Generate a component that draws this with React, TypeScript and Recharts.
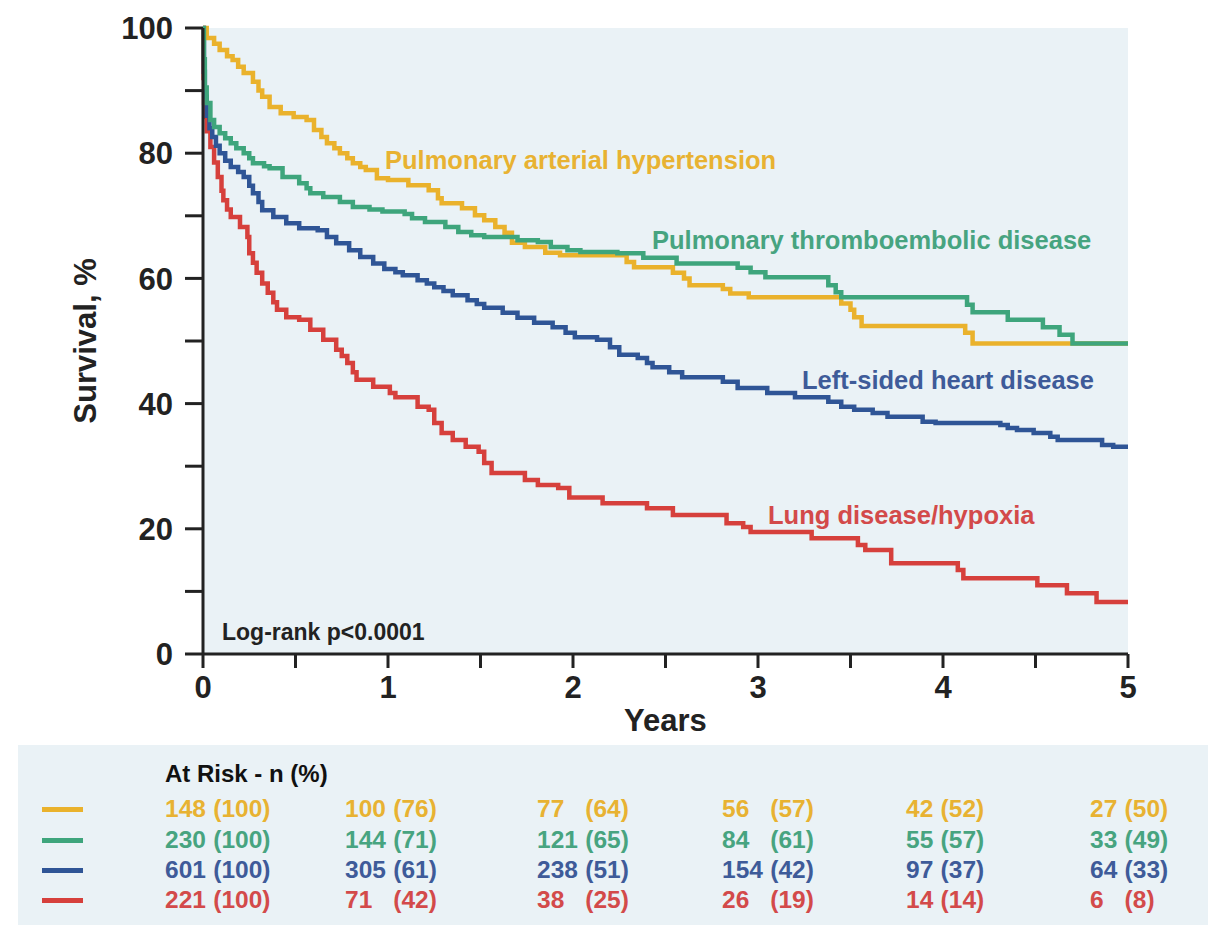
import React from "react";
import { LineChart, Line, XAxis, YAxis, CartesianGrid, Label } from "recharts";

// Kaplan-Meier steps: time (years) -> survival (%)
const pahTime = [0, 0.02, 0.06, 0.09, 0.13, 0.16, 0.19, 0.22, 0.27, 0.3, 0.32, 0.36, 0.42, 0.49, 0.56, 0.6, 0.64, 0.67, 0.71, 0.74, 0.78, 0.81, 0.85, 0.88, 0.94, 1.0, 1.11, 1.22, 1.27, 1.29, 1.4, 1.47, 1.52, 1.58, 1.63, 1.67, 1.74, 1.85, 1.93, 2.29, 2.33, 2.54, 2.6, 2.63, 2.81, 2.85, 2.95, 3.45, 3.5, 3.52, 3.56, 4.12, 4.16, 5];
const pahSurv = [100, 98.4, 97.5, 96.5, 95.5, 94.9, 93.8, 92.8, 91.4, 90, 89, 87.4, 86.4, 85.8, 85.3, 83.7, 82.6, 81.6, 80.8, 80, 79.2, 78.4, 77.8, 77.3, 76, 75.7, 74.9, 74.1, 72.8, 72, 71.2, 70.1, 69.3, 68.2, 67.3, 65.7, 65, 64.1, 63.7, 62.6, 61.8, 60.9, 60, 58.9, 58.3, 57.6, 57, 56, 55, 53.8, 52.4, 51.3, 49.6, 49.6];

const pteTime = [0, 0.005, 0.01, 0.02, 0.04, 0.06, 0.09, 0.12, 0.15, 0.18, 0.22, 0.25, 0.27, 0.33, 0.36, 0.43, 0.52, 0.56, 0.58, 0.65, 0.74, 0.81, 0.9, 0.97, 1.09, 1.13, 1.2, 1.31, 1.38, 1.45, 1.52, 1.7, 1.81, 1.88, 1.97, 2.04, 2.24, 2.38, 2.56, 2.89, 2.96, 3.04, 3.38, 3.42, 3.45, 4.13, 4.16, 4.35, 4.54, 4.63, 4.7, 5];
const pteSurv = [100, 95, 90.5, 88, 85.3, 84.2, 83.2, 82.4, 81.6, 80.8, 80, 79.2, 78.4, 77.9, 77.6, 76.2, 75.2, 74.4, 73.6, 73, 72.2, 71.4, 71, 70.7, 70.3, 69.6, 69, 68.2, 67.4, 66.9, 66.6, 66.1, 65.8, 65, 64.5, 64.2, 64, 63.3, 62.4, 61.7, 61, 60.2, 58.9, 57.8, 57, 55.8, 54.6, 53.4, 52.2, 51, 49.6, 49.6];

const lhdTime = [0, 0.005, 0.01, 0.02, 0.035, 0.05, 0.07, 0.09, 0.12, 0.15, 0.19, 0.22, 0.25, 0.27, 0.3, 0.32, 0.38, 0.45, 0.52, 0.62, 0.67, 0.72, 0.79, 0.85, 0.92, 0.98, 1.04, 1.08, 1.16, 1.21, 1.25, 1.3, 1.35, 1.43, 1.48, 1.52, 1.62, 1.7, 1.79, 1.89, 1.96, 2.01, 2.13, 2.2, 2.25, 2.35, 2.4, 2.43, 2.52, 2.59, 2.81, 2.89, 3.05, 3.2, 3.38, 3.45, 3.52, 3.62, 3.7, 3.89, 3.96, 4.31, 4.35, 4.4, 4.49, 4.58, 4.62, 4.86, 4.92, 5];
const lhdSurv = [100, 93, 89, 86, 84, 82.6, 81.2, 80, 78.8, 77.8, 77, 76.2, 74.8, 73.6, 72.2, 70.9, 69.8, 68.8, 68, 67.7, 66.6, 65.6, 64.5, 63.4, 62.4, 61.5, 61, 60.5, 59.7, 59.2, 58.6, 58, 57.3, 56.5, 55.9, 55.3, 54.5, 53.7, 52.9, 52.2, 51.3, 50.6, 50.2, 49, 47.8, 47.3, 46.5, 45.8, 45, 44.2, 43.5, 42.5, 41.7, 41, 40.3, 39.5, 39, 38.5, 37.9, 37.1, 36.9, 36.6, 36.1, 35.8, 35.3, 34.7, 34.2, 33.4, 33.1, 33.1];

const ldTime = [0, 0.003, 0.006, 0.01, 0.02, 0.04, 0.06, 0.08, 0.1, 0.11, 0.13, 0.15, 0.2, 0.24, 0.25, 0.27, 0.29, 0.32, 0.35, 0.38, 0.4, 0.45, 0.52, 0.58, 0.65, 0.72, 0.75, 0.78, 0.81, 0.83, 0.92, 1.01, 1.04, 1.16, 1.22, 1.25, 1.29, 1.35, 1.42, 1.49, 1.52, 1.56, 1.74, 1.81, 1.92, 1.98, 2.16, 2.4, 2.54, 2.83, 2.92, 2.96, 3.29, 3.54, 3.58, 3.72, 4.08, 4.11, 4.51, 4.67, 4.83, 5];
const ldSurv = [100, 92, 88, 85.8, 83.5, 81, 78.5, 76.2, 74, 72.5, 71, 69.8, 68.2, 66.6, 64, 62.5, 60.9, 59.2, 57.7, 56.2, 55, 53.8, 53.4, 51.8, 50.2, 48.6, 47.6, 46.5, 45, 43.8, 42.7, 41.7, 41, 39.5, 39, 36.9, 35.3, 34.2, 33.1, 32.3, 30.5, 28.9, 27.8, 27, 26.5, 25, 24.1, 23.3, 22.2, 20.9, 20.3, 19.5, 18.5, 17.4, 16.6, 14.5, 13.4, 12.1, 11, 9.7, 8.3, 8.3];

const xTicks = [0, 0.5, 1, 1.5, 2, 2.5, 3, 3.5, 4, 4.5, 5];
const yTicks = [0, 10, 20, 30, 40, 50, 60, 70, 80, 90, 100];

// at-risk table
const riskN = [
  [148, 100, 77, 56, 42, 27],
  [230, 144, 121, 84, 55, 33],
  [601, 305, 238, 154, 97, 64],
  [221, 71, 38, 26, 14, 6],
];
const riskPct = [
  [100, 76, 64, 57, 52, 50],
  [100, 71, 65, 61, 57, 49],
  [100, 61, 51, 42, 37, 33],
  [100, 42, 25, 19, 14, 8],
];

const LINE = ["#eab22c", "#3ea57c", "#2f5596", "#d6403c"];
const TEXT = ["#e8b232", "#47a480", "#3e5b99", "#d34a4a"];
const FONT = "'Liberation Sans', Arial, sans-serif";
const AXIS = "#222";

const pts = (t: number[], s: number[]) => t.map((x, i) => ({ t: x, s: s[i] }));
const pah = pts(pahTime, pahSurv);
const pte = pts(pteTime, pteSurv);
const lhd = pts(lhdTime, lhdSurv);
const ld = pts(ldTime, ldSurv);

const XTick = (props: any) => {
  const { x, y, payload } = props;
  if (!Number.isInteger(payload.value)) return null;
  return (
    <text x={x} y={y} dy="0.71em" textAnchor="middle" fill={AXIS} fontSize={31} fontWeight={700} fontFamily={FONT}>
      {payload.value}
    </text>
  );
};

const YTick = (props: any) => {
  const { x, y, payload } = props;
  if (payload.value % 20 !== 0) return null;
  return (
    <text x={x} y={y} dy="0.36em" textAnchor="end" fill={AXIS} fontSize={31} fontWeight={700} fontFamily={FONT}>
      {payload.value}
    </text>
  );
};

const notes = [
  { text: "Pulmonary arterial hypertension", x: 385, y: 169, color: TEXT[0], size: 25.5 },
  { text: "Pulmonary thromboembolic disease", x: 652, y: 249, color: TEXT[1], size: 25.5 },
  { text: "Left-sided heart disease", x: 802, y: 389, color: TEXT[2], size: 25.5 },
  { text: "Lung disease/hypoxia", x: 768, y: 524, color: TEXT[3], size: 25.5 },
  { text: "Log-rank p<0.0001", x: 222, y: 640, color: "#222", size: 23 },
];

const colLeft = [147, 327, 519, 704, 888, 1072];
const rowCenter = [64, 95, 125, 155];

export default function App() {
  return (
    <div style={{ position: "absolute", left: 0, top: 0, width: 1216, height: 929, background: "#fff", fontFamily: FONT }}>
      <LineChart width={1216} height={740} margin={{ top: 28, right: 88, left: 0, bottom: 0 }}>
        <CartesianGrid fill="#eaf2f6" horizontal={false} vertical={false} />
        <XAxis
          dataKey="t"
          type="number"
          domain={[0, 5]}
          ticks={xTicks}
          interval={0}
          height={86}
          tickSize={14}
          tickMargin={8}
          axisLine={{ stroke: AXIS, strokeWidth: 3 }}
          tickLine={{ stroke: AXIS, strokeWidth: 3 }}
          tick={XTick}
        >
          <Label value="Years" position="insideBottom" offset={9} style={{ fontSize: 31, fontWeight: 700, fill: AXIS, fontFamily: FONT }} />
        </XAxis>
        <YAxis
          type="number"
          domain={[0, 100]}
          ticks={yTicks}
          interval={0}
          width={203}
          tickSize={18}
          tickMargin={12}
          axisLine={{ stroke: AXIS, strokeWidth: 3 }}
          tickLine={{ stroke: AXIS, strokeWidth: 3 }}
          tick={YTick}
        >
          <Label
            value="Survival, %"
            angle={-90}
            position="insideLeft"
            offset={85}
            style={{ textAnchor: "middle", fontSize: 31, fontWeight: 700, fill: AXIS, fontFamily: FONT }}
          />
        </YAxis>
        <Line data={ld} dataKey="s" type="stepAfter" stroke={LINE[3]} strokeWidth={4.5} dot={false} isAnimationActive={false} />
        <Line data={lhd} dataKey="s" type="stepAfter" stroke={LINE[2]} strokeWidth={4.5} dot={false} isAnimationActive={false} />
        <Line data={pah} dataKey="s" type="stepAfter" stroke={LINE[0]} strokeWidth={4.5} dot={false} isAnimationActive={false} />
        <Line data={pte} dataKey="s" type="stepAfter" stroke={LINE[1]} strokeWidth={4.5} dot={false} isAnimationActive={false} />
      </LineChart>

      <svg width={1216} height={740} style={{ position: "absolute", left: 0, top: 0, pointerEvents: "none" }}>
        {notes.map((n) => (
          <text key={n.text} x={n.x} y={n.y} fill={n.color} fontSize={n.size} fontWeight={700} fontFamily={FONT}>
            {n.text}
          </text>
        ))}
      </svg>

      <div style={{ position: "absolute", left: 18, top: 745, width: 1190, height: 180, background: "#eaf2f6" }}>
        <div style={{ position: "absolute", left: 147, top: 14, lineHeight: "30px", fontSize: 24, fontWeight: 700, color: "#111" }}>
          At Risk - n (%)
        </div>
        {riskN.map((row, r) => (
          <React.Fragment key={r}>
            <div style={{ position: "absolute", left: 24, top: rowCenter[r] - 2.5, width: 41, height: 5, background: LINE[r] }} />
            {row.map((n, c) => {
              const digits = Math.max(...riskN.map((rr) => String(rr[c]).length));
              return (
                <div
                  key={c}
                  style={{ position: "absolute", left: colLeft[c], top: rowCenter[r] - 15, lineHeight: "30px", fontSize: 24.5, fontWeight: 700, color: TEXT[r], whiteSpace: "nowrap" }}
                >
                  <span style={{ display: "inline-block", width: `${digits * 0.556 + 0.3}em` }}>{n}</span>({riskPct[r][c]})
                </div>
              );
            })}
          </React.Fragment>
        ))}
      </div>
    </div>
  );
}
